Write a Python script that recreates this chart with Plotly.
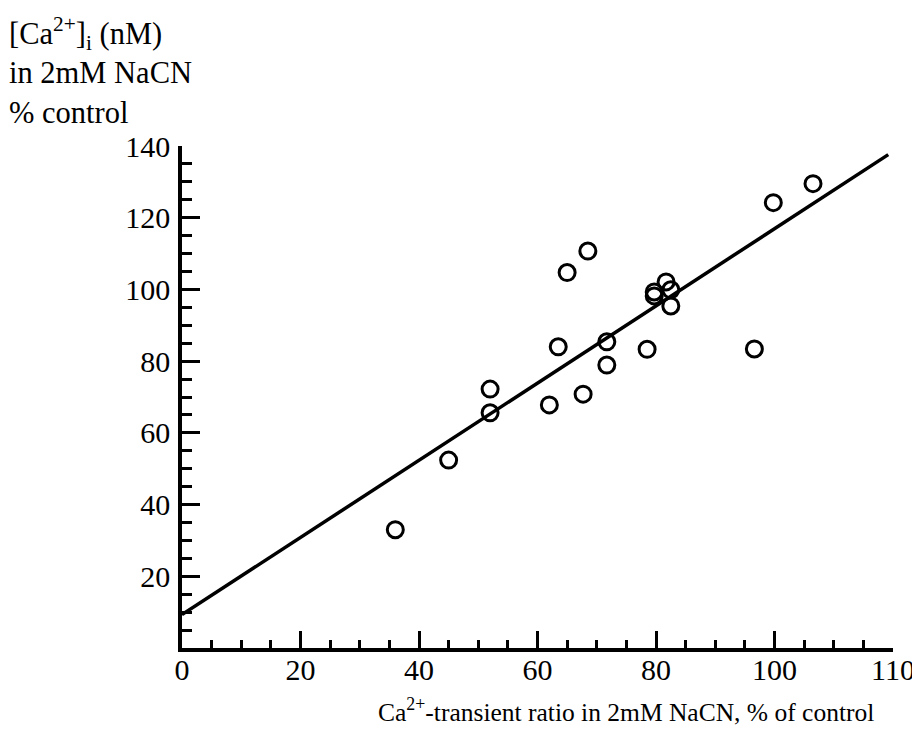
import plotly.graph_objects as go

# Data
ratio_pct = [36, 45, 52, 52, 62, 63.5, 65, 68.5, 67.7, 71.7, 71.7, 78.5,
             79.7, 79.7, 81.7, 82.5, 82.5, 96.6, 99.8, 106.5]
ca_pct = [33, 52.4, 72.2, 65.6, 67.8, 84.0, 104.7, 110.7, 70.8, 85.4, 78.9, 83.3,
          98.2, 99.3, 102.1, 99.9, 95.4, 83.4, 124.2, 129.5]

fit_x = [0, 119.2]
fit_y = [9.3, 137.6]

x_tickvals = [0, 20, 40, 60, 80, 100, 120]
x_ticktext = ["0", "20", "40", "60", "80", "100", "110"]
y_tickvals = [20, 40, 60, 80, 100, 120, 140]

FONT = "Liberation Serif"

fig = go.Figure()
fig.add_trace(go.Scatter(x=fit_x, y=fit_y, mode="lines",
                         line=dict(color="black", width=3.5), showlegend=False,
                         cliponaxis=False))
fig.add_trace(go.Scatter(x=ratio_pct, y=ca_pct, mode="markers",
                         marker=dict(symbol="circle-open", size=16, color="black",
                                     line=dict(width=3, color="black")),
                         showlegend=False))

W, H = 920, 753
OFF = 8  # page body margin
L, R, T, B = 181.5 - OFF, 893 - OFF, 145.7 - OFF, 648.5 - OFF

def px(x):
    return (x - OFF - L) / (R - L)

def py(y):
    return (B - (y - OFF)) / (B - T)

fig.update_layout(
    width=W, height=H,
    margin=dict(l=L, r=W - R, t=T, b=H - B, pad=0),
    plot_bgcolor="white", paper_bgcolor="white",
    font=dict(family=FONT, size=30, color="black"),
    xaxis=dict(range=[0, 120], tickmode="array", tickvals=x_tickvals, ticktext=x_ticktext,
               showline=True, linecolor="black", linewidth=3.5, ticks="inside",
               ticklen=17, tickwidth=2.5, tickcolor="black", showgrid=False, zeroline=False,
               ticklabelstandoff=-8,
               minor=dict(tickmode="linear", tick0=0, dtick=5, ticks="inside", ticklen=8,
                          tickwidth=2.5, tickcolor="black", showgrid=False)),
    yaxis=dict(range=[0, 140], tickmode="array", tickvals=y_tickvals,
               showline=True, linecolor="black", linewidth=3.5, ticks="inside",
               ticklen=18, tickwidth=3, tickcolor="black", showgrid=False, zeroline=False,
               ticklabelstandoff=2,
               minor=dict(tickmode="linear", tick0=0, dtick=5, ticks="inside", ticklen=10,
                          tickwidth=3, tickcolor="black", showgrid=False)),
    annotations=[
        dict(text="[Ca<sup>2+</sup>]<sub>i</sub> (nM)<br>in 2mM NaCN<br>% control",
             x=px(6), y=py(9), xref="paper", yref="paper", align="left",
             xanchor="left", yanchor="top", showarrow=False, font=dict(size=30.5)),
        dict(text="Ca<sup>2+</sup>-transient ratio in 2mM NaCN, % of control", x=px(626), y=py(711),
             xref="paper", yref="paper", xanchor="center", yanchor="middle", showarrow=False,
             font=dict(size=25.5)),
    ],
)

fig.write_html("out.html")
